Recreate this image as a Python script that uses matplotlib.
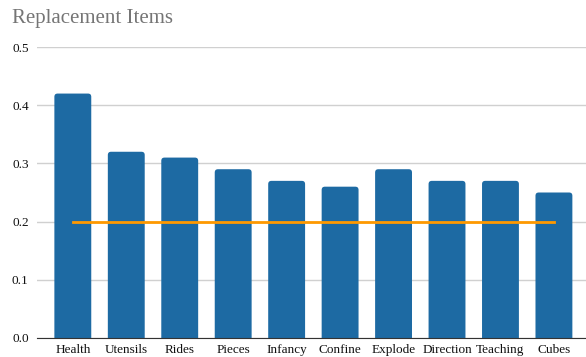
import numpy as np
import matplotlib.pyplot as plt
from matplotlib.patches import FancyBboxPatch

categories = ['Health', 'Utensils', 'Rides', 'Pieces', 'Infancy', 'Confine',
              'Explode', 'Direction', 'Teaching', 'Cubes']
values = [0.42, 0.32, 0.31, 0.29, 0.27, 0.26, 0.29, 0.27, 0.27, 0.25]
baseline = [0.2] * len(categories)
yticks = [0.0, 0.1, 0.2, 0.3, 0.4, 0.5]

plt.rcParams['font.family'] = ['Liberation Serif', 'DejaVu Serif']

fig = plt.figure(figsize=(5.86, 3.57), dpi=100)
ax = fig.add_axes([37 / 586, 1 - 338 / 357, 1 - 37 / 586, (338 - 47) / 357])

ax.set_ylim(0, 0.5)
ax.set_xlim(-0.67, 9.6)

x = np.arange(len(categories))
bars = ax.bar(x, values, width=0.69, color='#1d6aa3', zorder=2)
# swap the plain bars for ones with slightly rounded tops
for b in bars:
    b.set_visible(False)
    p = FancyBboxPatch((b.get_x(), -0.02), b.get_width(), b.get_height() + 0.02,
                       boxstyle='round,pad=0,rounding_size=0.06',
                       mutation_aspect=0.092, facecolor='#1d6aa3',
                       edgecolor='none', zorder=2)
    ax.add_patch(p)

ax.plot(x, baseline, color='#ff9900', linewidth=2, zorder=3)

ax.set_yticks(yticks)
ax.set_yticklabels([f'{t:.1f}' for t in yticks])
ax.set_xticks(x)
ax.set_xticklabels(categories)
ax.grid(axis='y', color='#d0d0d0', linewidth=1, zorder=0)
ax.tick_params(axis='both', length=0, labelsize=9.5, colors='#111111')
ax.tick_params(axis='y', pad=6)
ax.tick_params(axis='x', pad=4)
for s in ['top', 'right', 'left']:
    ax.spines[s].set_visible(False)
ax.spines['bottom'].set_color('#333333')
ax.spines['bottom'].set_zorder(4)

fig.text(12 / 586, 1 - 9 / 357, 'Replacement Items', fontsize=15,
         color='#757575', ha='left', va='top')

fig.savefig('out.png', dpi=100)
